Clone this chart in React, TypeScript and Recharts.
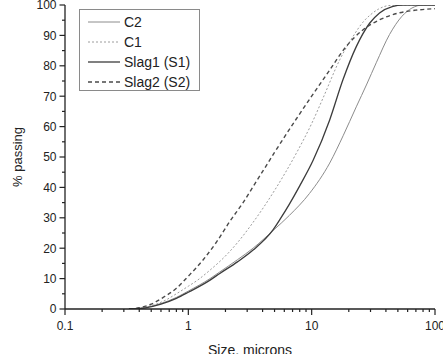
import React from 'react';
import { LineChart, Line, XAxis, YAxis, Legend, Label } from 'recharts';

// particle size (microns) and % passing
const c2Size = [0.33, 0.45, 0.6, 0.8, 1, 1.5, 1.8, 2.5, 3.35, 4.86, 6.6, 9.6, 14, 18, 23, 28, 33.4, 42.8, 54, 65, 80, 100];
const c2Pass = [0, 0.5, 1.8, 3.8, 5.9, 10, 12.2, 16.2, 20, 25.8, 30.8, 38, 48, 57, 66.5, 74, 81, 90.3, 96.3, 99, 100, 100];

const c1Size = [0.33, 0.45, 0.55, 0.66, 0.8, 1, 1.17, 1.5, 2.04, 2.5, 3.35, 5, 7.5, 10, 12.4, 16.9, 21.6, 26, 30, 35, 42, 55, 100];
const c1Pass = [0, 0.6, 1.6, 3, 5, 7.5, 9.3, 12.8, 17.8, 21.8, 28.5, 39, 51.2, 61, 69.5, 82, 89.6, 94.3, 96.8, 98.7, 99.8, 100, 100];

const s1Size = [0.33, 0.45, 0.6, 0.8, 1, 1.5, 1.8, 2.5, 3.35, 4.86, 5.5, 6.6, 8, 10.3, 14, 17.9, 23, 29.5, 35.5, 45, 55, 100];
const s1Pass = [0, 0.4, 1.6, 3.5, 5.5, 9.5, 11.7, 15.5, 19.4, 26, 29.3, 34.5, 40.5, 49, 62.2, 75.3, 86.3, 94, 97.4, 99.5, 100, 100];

const s2Size = [0.33, 0.4, 0.5, 0.625, 0.8, 1, 1.32, 1.69, 2.17, 2.78, 3.5, 4.04, 5, 7.5, 10, 14, 19, 26, 35, 50, 70, 100];
const s2Pass = [0, 0.4, 1.6, 3.8, 6.8, 10.8, 16.2, 22, 28.8, 35, 41.5, 45.5, 51.5, 62.5, 70, 78.6, 86.3, 91.8, 95, 97.3, 98.3, 98.8];

const xMajor = [0.1, 1, 10, 100];
const xMinor = [0.2, 0.3, 0.4, 0.5, 0.6, 0.7, 0.8, 0.9, 2, 3, 4, 5, 6, 7, 8, 9, 20, 30, 40, 50, 60, 70, 80, 90];
const yTicks = [0, 5, 10, 15, 20, 25, 30, 35, 40, 45, 50, 55, 60, 65, 70, 75, 80, 85, 90, 95, 100];
const yMajor = [0, 10, 20, 30, 40, 50, 60, 70, 80, 90, 100];

const seriesNames = ['C2', 'C1', 'Slag1 (S1)', 'Slag2 (S2)'];

const toData = (xs: number[], ys: number[]) => xs.map((x, i) => ({ x, y: ys[i] }));

const c2Data = toData(c2Size, c2Pass);
const c1Data = toData(c1Size, c1Pass);
const s1Data = toData(s1Size, s1Pass);
const s2Data = toData(s2Size, s2Pass);

const styles = [
  { stroke: '#8c8c8c', width: 1, dash: undefined as string | undefined },
  { stroke: '#9c9c9c', width: 1, dash: '2 2' },
  { stroke: '#3c3c3c', width: 1.3, dash: undefined as string | undefined },
  { stroke: '#4a4a4a', width: 1.4, dash: '4 3' },
];

const FONT = '"Liberation Sans", Arial, sans-serif';
const AX = '#222';

const XTick = (props: any) => {
  const { x, y, payload } = props;
  const major = xMajor.includes(payload.value);
  return (
    <g>
      <line x1={x} x2={x} y1={y} y2={y + (major ? 6 : 3)} stroke={AX} strokeWidth={1.2} />
      {major && (
        <text x={x} y={y + 20.5} textAnchor="middle" fontSize={12} fontFamily={FONT} fill={AX}>
          {String(payload.value)}
        </text>
      )}
    </g>
  );
};

const YTick = (props: any) => {
  const { x, y, payload } = props;
  const major = yMajor.includes(payload.value);
  return (
    <g>
      <line x1={x} x2={x - (major ? 5.5 : 3)} y1={y} y2={y} stroke={AX} strokeWidth={1.2} />
      {major && (
        <text x={x - 8.5} y={y + 4.3} textAnchor="end" fontSize={12} fontFamily={FONT} fill={AX}>
          {String(payload.value)}
        </text>
      )}
    </g>
  );
};

const renderLegend = () => (
  <div
    style={{
      position: 'relative',
      width: 121,
      height: 82,
      boxSizing: 'border-box',
      border: '1px solid #8a8a8a',
      background: '#fff',
      fontFamily: FONT,
      fontSize: 14,
      color: '#222',
    }}
  >
    {seriesNames.map((name, i) => (
      <div key={name} style={{ position: 'absolute', left: 0, top: 2 + i * 20, height: 20, width: 119 }}>
        <svg width={40} height={20} style={{ position: 'absolute', left: 8, top: 0 }}>
          <line
            x1={0}
            x2={32}
            y1={10}
            y2={10}
            stroke={styles[i].stroke}
            strokeWidth={styles[i].width}
            strokeDasharray={styles[i].dash}
          />
        </svg>
        <span style={{ position: 'absolute', left: 44, top: 1, lineHeight: '18px', whiteSpace: 'nowrap' }}>{name}</span>
      </div>
    ))}
  </div>
);

export default function App() {
  const all = [c2Data, c1Data, s1Data, s2Data];
  return (
    <div style={{ position: 'absolute', left: 0, top: 0, width: 443, height: 354, background: '#fff' }}>
      <LineChart width={443} height={354} margin={{ top: 5, right: 8, bottom: 0, left: 0 }}>
        <XAxis
          type="number"
          dataKey="x"
          scale="log"
          domain={[0.1, 100]}
          allowDataOverflow
          ticks={[...xMajor, ...xMinor].sort((a, b) => a - b)}
          interval={0}
          tick={<XTick />}
          tickLine={false}
          tickSize={0}
          tickMargin={0}
          height={45}
          stroke={AX}
          strokeWidth={1.3}
        >
          <Label
            content={(p: any) => {
              const vb = p.viewBox;
              return (
                <text x={vb.x + vb.width / 2} y={vb.y + vb.height + 1} textAnchor="middle" fontSize={14} fontFamily={FONT} fill={AX}>
                  Size, microns
                </text>
              );
            }}
          />
        </XAxis>
        <YAxis
          type="number"
          domain={[0, 100]}
          allowDataOverflow
          ticks={yTicks}
          interval={0}
          tick={<YTick />}
          tickLine={false}
          tickSize={0}
          tickMargin={0}
          width={65}
          stroke={AX}
          strokeWidth={1.3}
        >
          <Label
            content={(p: any) => {
              const vb = p.viewBox;
              const cy = vb.y + vb.height / 2;
              return (
                <text x={22} y={cy} transform={`rotate(-90, 22, ${cy})`} textAnchor="middle" fontSize={13} fontFamily={FONT} fill={AX}>
                  % passing
                </text>
              );
            }}
          />
        </YAxis>
        <Legend
          layout="vertical"
          align="center"
          verticalAlign="middle"
          content={renderLegend}
          wrapperStyle={{ position: 'absolute', left: 79, top: 9, width: 121, height: 82 }}
        />
        {all.map((d, i) => (
          <Line
            key={seriesNames[i]}
            name={seriesNames[i]}
            data={d}
            dataKey="y"
            type="monotone"
            dot={false}
            activeDot={false}
            stroke={styles[i].stroke}
            strokeWidth={styles[i].width}
            strokeDasharray={styles[i].dash}
            isAnimationActive={false}
          />
        ))}
      </LineChart>
    </div>
  );
}
